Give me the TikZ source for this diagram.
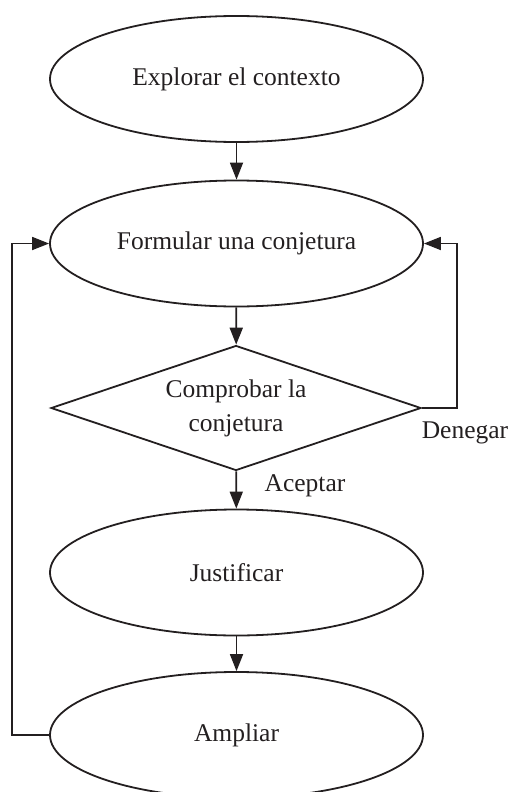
\documentclass[tikz,border=0pt]{standalone}
\usepackage{fontspec}
\setmainfont{Liberation Serif}
\usetikzlibrary{shapes.geometric,arrows.meta}
\definecolor{ink}{HTML}{231F20}
\begin{document}
\begin{tikzpicture}[x=1pt,y=-1pt,
  every node/.style={text=ink,font=\fontsize{25.5}{34}\selectfont},
  oval/.style={ellipse,draw=ink,line width=1.8pt,minimum width=373pt,minimum height=126pt,inner sep=0pt},
  decision/.style={diamond,draw=ink,line width=1.8pt,aspect=3,minimum width=370pt,minimum height=125pt,inner sep=0pt,align=center},
  arr/.style={draw=ink,line width=1.8pt,-{Triangle[length=17pt,width=13pt]}},
  lab/.style={inner sep=0pt}]
\useasboundingbox (0,0) rectangle (511,792);
\node[oval] (e1) at (236.5,79) {Explorar el contexto};
\node[oval] (e2) at (236.5,243.5) {Formular una conjetura};
\node[decision] (d) at (236,408) {Comprobar la\\conjetura};
\node[oval] (e3) at (236.5,572.5) {Justificar};
\node[oval] (e4) at (236.5,735) {Ampliar};
\draw[arr] (e1) -- (e2);
\draw[arr] (e2) -- (d);
\draw[arr] (d) -- (e3);
\draw[arr] (e3) -- (e4);
\draw[arr] (d.east) -- ++(35,0) |- (e2.east);
\draw[arr] (e4.west) -- ++(-37,0) |- (e2.west);
\node[lab] (deny) at (465,433) {Denegar};
\node[lab] (acc) at (305,486) {Aceptar};
\end{tikzpicture}
\end{document}
